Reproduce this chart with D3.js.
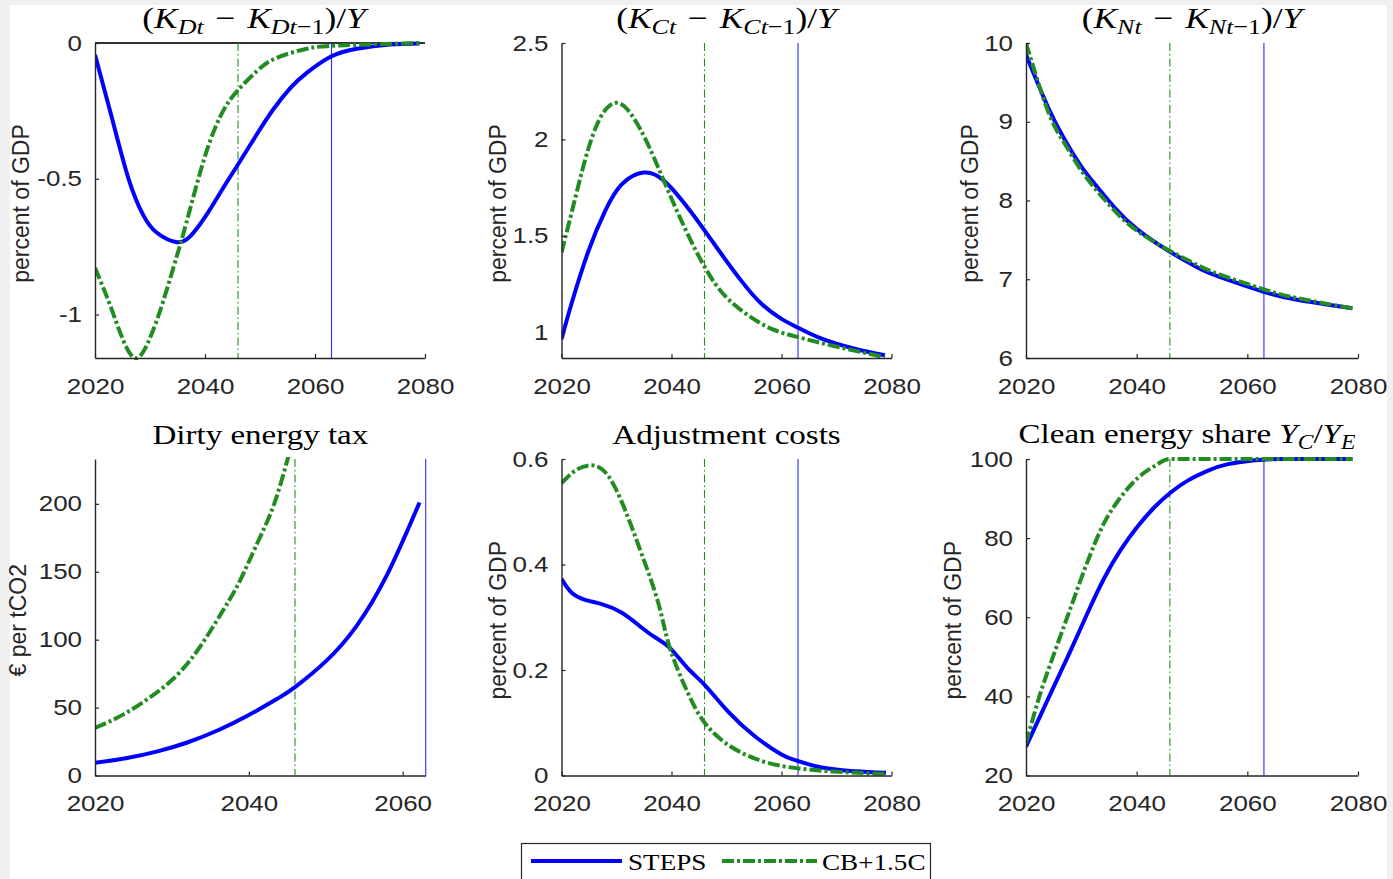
<!DOCTYPE html>
<html>
<head>
<meta charset="utf-8">
<script src="https://cdn.jsdelivr.net/npm/d3@7"></script>
<style>
  body { margin: 0; background: #f0f0f0; }
  svg { display: block; }
</style>
</head>
<body>
<svg id="chart" width="1393" height="879"></svg>
<script>
// ---- data: [year, value] ----
const kdSteps = [[2020,-0.043],[2023,-0.27],[2026.1,-0.5],[2028.8,-0.635],[2031.2,-0.698],[2034.7,-0.733],[2037.3,-0.712],[2040.3,-0.632],[2043.3,-0.534],[2045.8,-0.454],[2049.4,-0.337],[2052.4,-0.245],[2055.5,-0.166],[2058.5,-0.11],[2063,-0.049],[2067.6,-0.021],[2073.6,-0.006],[2079,-0.002]];
const kdCb = [[2020,-0.828],[2022.7,-0.963],[2025.2,-1.098],[2027.6,-1.16],[2030,-1.086],[2032.4,-0.951],[2034.8,-0.79],[2036.1,-0.7],[2038.5,-0.521],[2040.9,-0.362],[2043.3,-0.25],[2045.8,-0.178],[2049.4,-0.104],[2053,-0.055],[2058.5,-0.021],[2064.5,-0.009],[2079,0]];

const kcSteps = [[2020,0.963],[2021.8,1.146],[2024.9,1.421],[2027.9,1.627],[2030.9,1.765],[2034.9,1.828],[2038.8,1.782],[2043,1.644],[2046.1,1.524],[2049.1,1.404],[2052.7,1.266],[2056.4,1.146],[2060,1.069],[2062.8,1.026],[2067.3,0.966],[2073.3,0.914],[2078.8,0.88]];
const kcCb = [[2020,1.412],[2022.5,1.696],[2024.9,1.954],[2027.3,2.125],[2029.7,2.189],[2032.1,2.151],[2035.2,2.005],[2038.8,1.773],[2042.4,1.541],[2046.1,1.335],[2049.7,1.189],[2054,1.086],[2058.2,1.017],[2063,0.974],[2070.3,0.923],[2078.8,0.871]];

const knSteps = [[2020,9.85],[2024,9.18],[2027,8.77],[2030,8.43],[2033,8.16],[2036,7.91],[2040,7.64],[2046,7.35],[2051,7.15],[2055,7.03],[2063,6.84],[2069,6.74],[2079,6.63]];
const knCb = [[2020,10],[2024,9.13],[2027,8.72],[2030,8.38],[2033,8.11],[2036,7.87],[2040,7.62],[2046,7.36],[2051,7.18],[2055,7.06],[2063,6.87],[2069,6.76],[2079,6.63]];

const taxSteps = [[2020,9.3],[2024,12.7],[2028,17.6],[2032,24.3],[2036,33.3],[2040,44.5],[2044,57.5],[2046,65],[2050,84],[2054,110],[2058,148],[2062.2,201]];
const taxCb = [[2020,35],[2023.7,45],[2028,61],[2032.4,85],[2036.7,122],[2038.9,144],[2041.1,171],[2043.3,200],[2045,232],[2046,250]];

const adjSteps = [[2020,0.373],[2021.8,0.347],[2024.3,0.333],[2027.3,0.325],[2030.9,0.309],[2034.5,0.281],[2037,0.262],[2039.7,0.242],[2042.8,0.205],[2046.1,0.171],[2050.3,0.121],[2055.2,0.074],[2060,0.04],[2062.8,0.028],[2067.3,0.015],[2073.3,0.008],[2079,0.005]];
const adjCb = [[2020,0.554],[2022.5,0.578],[2025.5,0.588],[2028.5,0.568],[2031.5,0.505],[2034.5,0.422],[2037.6,0.327],[2039.7,0.242],[2043,0.156],[2046.1,0.099],[2050.3,0.058],[2055.2,0.032],[2061.2,0.016],[2070.3,0.007],[2079,0.003]];

const cleanSteps = [[2020,27.3],[2025,42.4],[2028.1,51.7],[2031.1,61],[2034.1,69.8],[2037.2,77.2],[2040.2,83],[2043.2,87.8],[2046.2,91.6],[2049.3,94.6],[2052.8,97],[2056.5,98.7],[2061.4,99.7],[2066,100],[2079,100]];
const cleanCb = [[2020,28.1],[2022.6,40.8],[2025,50.5],[2028.1,62.5],[2031.1,74],[2034.1,83.8],[2037.2,90.5],[2040.2,95.2],[2043.2,98.2],[2045.9,100],[2050,100],[2055,100],[2079,100]];

// net-zero years marked by the vertical lines
const cbNetZero = 2046;
const stepsNetZero = 2063;

const xTicks = [2020, 2040, 2060, 2080];
const taxXTicks = [2020, 2040, 2060];

const seriesNames = ["STEPS", "CB+1.5C"];

// ---- styling ----
const blue = "#0000ff";
const green = "#228b22";
const axisColor = "#262626";
const SX = 1.18;   // horizontal text stretch of the original export
const greenDash = "12,3,3,3";

// titles as pieces: t text, it italic, sub subscript
const minus = "\u2004−\u2004";
const titles = [
  [{t:"("},{t:"K",it:1},{t:"Dt",it:1,sub:1},{t:minus},{t:"K",it:1},{t:"Dt",it:1,sub:1},{t:"−1",sub:1},{t:")/"},{t:"Y",it:1}],
  [{t:"("},{t:"K",it:1},{t:"Ct",it:1,sub:1},{t:minus},{t:"K",it:1},{t:"Ct",it:1,sub:1},{t:"−1",sub:1},{t:")/"},{t:"Y",it:1}],
  [{t:"("},{t:"K",it:1},{t:"Nt",it:1,sub:1},{t:minus},{t:"K",it:1},{t:"Nt",it:1,sub:1},{t:"−1",sub:1},{t:")/"},{t:"Y",it:1}],
  [{t:"Dirty energy tax"}],
  [{t:"Adjustment costs"}],
  [{t:"Clean energy share "},{t:"Y",it:1},{t:"C",it:1,sub:1},{t:"/"},{t:"Y",it:1},{t:"E",it:1,sub:1}]
];

const smooth = d3.curveNatural;
const panels = [
  {left:95, right:425, top:43, bottom:358, xMax:2080, xt:xTicks, yDomain:[-1.16,0], yTicks:[-1,-0.5,0], steps:kdSteps, cb:kdCb, ylabel:"percent of GDP", labOff:66, titleDx:-6, titleY:28, titleSize:30, zero:true},
  {left:561.5, right:891.5, top:43, bottom:358, xMax:2080, xt:xTicks, yDomain:[0.866,2.5], yTicks:[1,1.5,2,2.5], steps:kcSteps, cb:kcCb, ylabel:"percent of GDP", labOff:55.5, titleDx:0, titleY:28, titleSize:30},
  {left:1026, right:1358, top:43, bottom:358, xMax:2080, xt:xTicks, yDomain:[6,10], yTicks:[6,7,8,9,10], steps:knSteps, cb:knCb, ylabel:"percent of GDP", labOff:48, titleDx:0, titleY:28, titleSize:30},
  {left:95, right:425.7, top:459, bottom:775.5, xMax:2063, xt:taxXTicks, yDomain:[0,233], yTicks:[0,50,100,150,200], steps:taxSteps, cb:taxCb, ylabel:"€ per tCO2", labOff:69, titleDx:0, titleY:444, titleSize:28},
  {left:561.5, right:891.5, top:459, bottom:775.5, xMax:2080, xt:xTicks, yDomain:[0,0.6], yTicks:[0,0.2,0.4,0.6], steps:adjSteps, cb:adjCb, ylabel:"percent of GDP", labOff:55.5, titleDx:0, titleY:444, titleSize:28},
  {left:1026, right:1358, top:459, bottom:775.5, xMax:2080, xt:xTicks, yDomain:[20,100], yTicks:[20,40,60,80,100], steps:cleanSteps, cb:cleanCb, cbCurve:d3.curveMonotoneX, ylabel:"percent of GDP", labOff:64.7, titleDx:-5, titleY:443, titleSize:28}
];

const svg = d3.select("#chart");

// grey frame with white figure area
svg.append("rect").attr("width", 1393).attr("height", 879).attr("fill", "#f0f0f0");
svg.append("rect").attr("x", 10).attr("y", 5).attr("width", 1377).attr("height", 874).attr("fill", "#fff");

function addTitle(cx, cy, size, parts) {
  const t = svg.append("text")
    .attr("transform", `translate(${cx},${cy}) scale(${SX},1)`)
    .attr("text-anchor", "middle")
    .style("font-family", "'Liberation Serif', 'Times New Roman', serif")
    .style("font-size", size + "px")
    .attr("fill", "#000");
  let shift = 0;
  parts.forEach(p => {
    const target = p.sub ? 6 : 0;
    const ts = t.append("tspan").text(p.t).attr("dy", target - shift);
    shift = target;
    if (p.it) ts.style("font-style", "italic");
    if (p.sub) ts.style("font-size", Math.round(size * 0.72) + "px");
  });
}

panels.forEach((p, i) => {
  const x = d3.scaleLinear().domain([2020, p.xMax]).range([p.left, p.right]);
  const y = d3.scaleLinear().domain(p.yDomain).range([p.bottom, p.top]);
  const g = svg.append("g");

  const clipId = "clip" + i;
  svg.append("clipPath").attr("id", clipId)
    .append("rect")
    .attr("x", p.left).attr("y", p.top - 2)
    .attr("width", p.right - p.left + 2).attr("height", p.bottom - p.top + 4);

  if (p.zero) {
    g.append("line")
      .attr("x1", x(2020)).attr("x2", x(p.xMax))
      .attr("y1", y(0)).attr("y2", y(0))
      .attr("stroke", "#333").attr("stroke-width", 2.2);
  }

  // vertical net-zero markers
  g.append("line")
    .attr("x1", x(cbNetZero)).attr("x2", x(cbNetZero))
    .attr("y1", p.top).attr("y2", p.bottom)
    .attr("stroke", green).attr("stroke-width", 1.1)
    .attr("stroke-dasharray", "8,3,1.5,3");
  g.append("line")
    .attr("x1", x(stepsNetZero)).attr("x2", x(stepsNetZero))
    .attr("y1", p.top).attr("y2", p.bottom)
    .attr("stroke", "#2a2aff").attr("stroke-width", 1.1);

  const lineOf = curve => d3.line()
    .x(d => x(d[0]))
    .y(d => y(d[1]))
    .curve(curve);

  g.append("path").datum(p.steps)
    .attr("d", lineOf(smooth))
    .attr("clip-path", `url(#${clipId})`)
    .attr("fill", "none").attr("stroke", blue).attr("stroke-width", 4);

  g.append("path").datum(p.cb)
    .attr("d", lineOf(p.cbCurve || smooth))
    .attr("clip-path", `url(#${clipId})`)
    .attr("fill", "none").attr("stroke", green).attr("stroke-width", 4)
    .attr("stroke-dasharray", greenDash);

  // axes
  const xAxis = d3.axisBottom(x)
    .tickValues(p.xt)
    .tickSizeInner(-4).tickSizeOuter(0)
    .tickPadding(20)
    .tickFormat(d3.format("d"));
  const gx = g.append("g").attr("transform", `translate(0,${p.bottom})`).call(xAxis);

  const yAxis = d3.axisLeft(y)
    .tickValues(p.yTicks)
    .tickSizeInner(-4).tickSizeOuter(0)
    .tickPadding(11)
    .tickFormat(d => String(d));
  const gy = g.append("g").attr("transform", `translate(${p.left},0)`).call(yAxis);

  [gx, gy].forEach(a => {
    a.select(".domain").attr("stroke", axisColor).attr("stroke-width", 1.4);
    a.selectAll(".tick line").attr("stroke", axisColor).attr("stroke-width", 1.2);
    a.selectAll(".tick text")
      .attr("fill", axisColor)
      .attr("transform", `scale(${SX},1)`)
      .style("font-family", "'Liberation Sans', Arial, sans-serif")
      .style("font-size", "22px");
  });

  // y label
  const cy = (p.top + p.bottom) / 2 + 3;
  svg.append("text")
    .attr("transform", `translate(${p.left - p.labOff},${cy}) rotate(-90)`)
    .attr("text-anchor", "middle")
    .attr("fill", axisColor)
    .style("font-family", "'Liberation Sans', Arial, sans-serif")
    .style("font-size", "23px")
    .text(p.ylabel);

  addTitle((p.left + p.right) / 2 + p.titleDx, p.titleY, p.titleSize, titles[i]);
});

// legend
const leg = svg.append("g");
leg.append("rect")
  .attr("x", 521.5).attr("y", 843.5).attr("width", 409).attr("height", 50)
  .attr("fill", "#fff").attr("stroke", axisColor).attr("stroke-width", 1.2);

const legItems = [
  {name: seriesNames[0], color: blue, dash: null, x1: 531, x2: 622, tx: 628},
  {name: seriesNames[1], color: green, dash: greenDash, x1: 722, x2: 817, tx: 822}
];
legItems.forEach(d => {
  leg.append("line")
    .attr("x1", d.x1).attr("x2", d.x2).attr("y1", 861).attr("y2", 861)
    .attr("stroke", d.color).attr("stroke-width", 4)
    .attr("stroke-dasharray", d.dash);
  leg.append("text")
    .attr("transform", `translate(${d.tx},870) scale(${SX},1)`)
    .style("font-family", "'Liberation Serif', 'Times New Roman', serif")
    .style("font-size", "23px")
    .attr("fill", "#000")
    .text(d.name);
});
</script>
</body>
</html>
